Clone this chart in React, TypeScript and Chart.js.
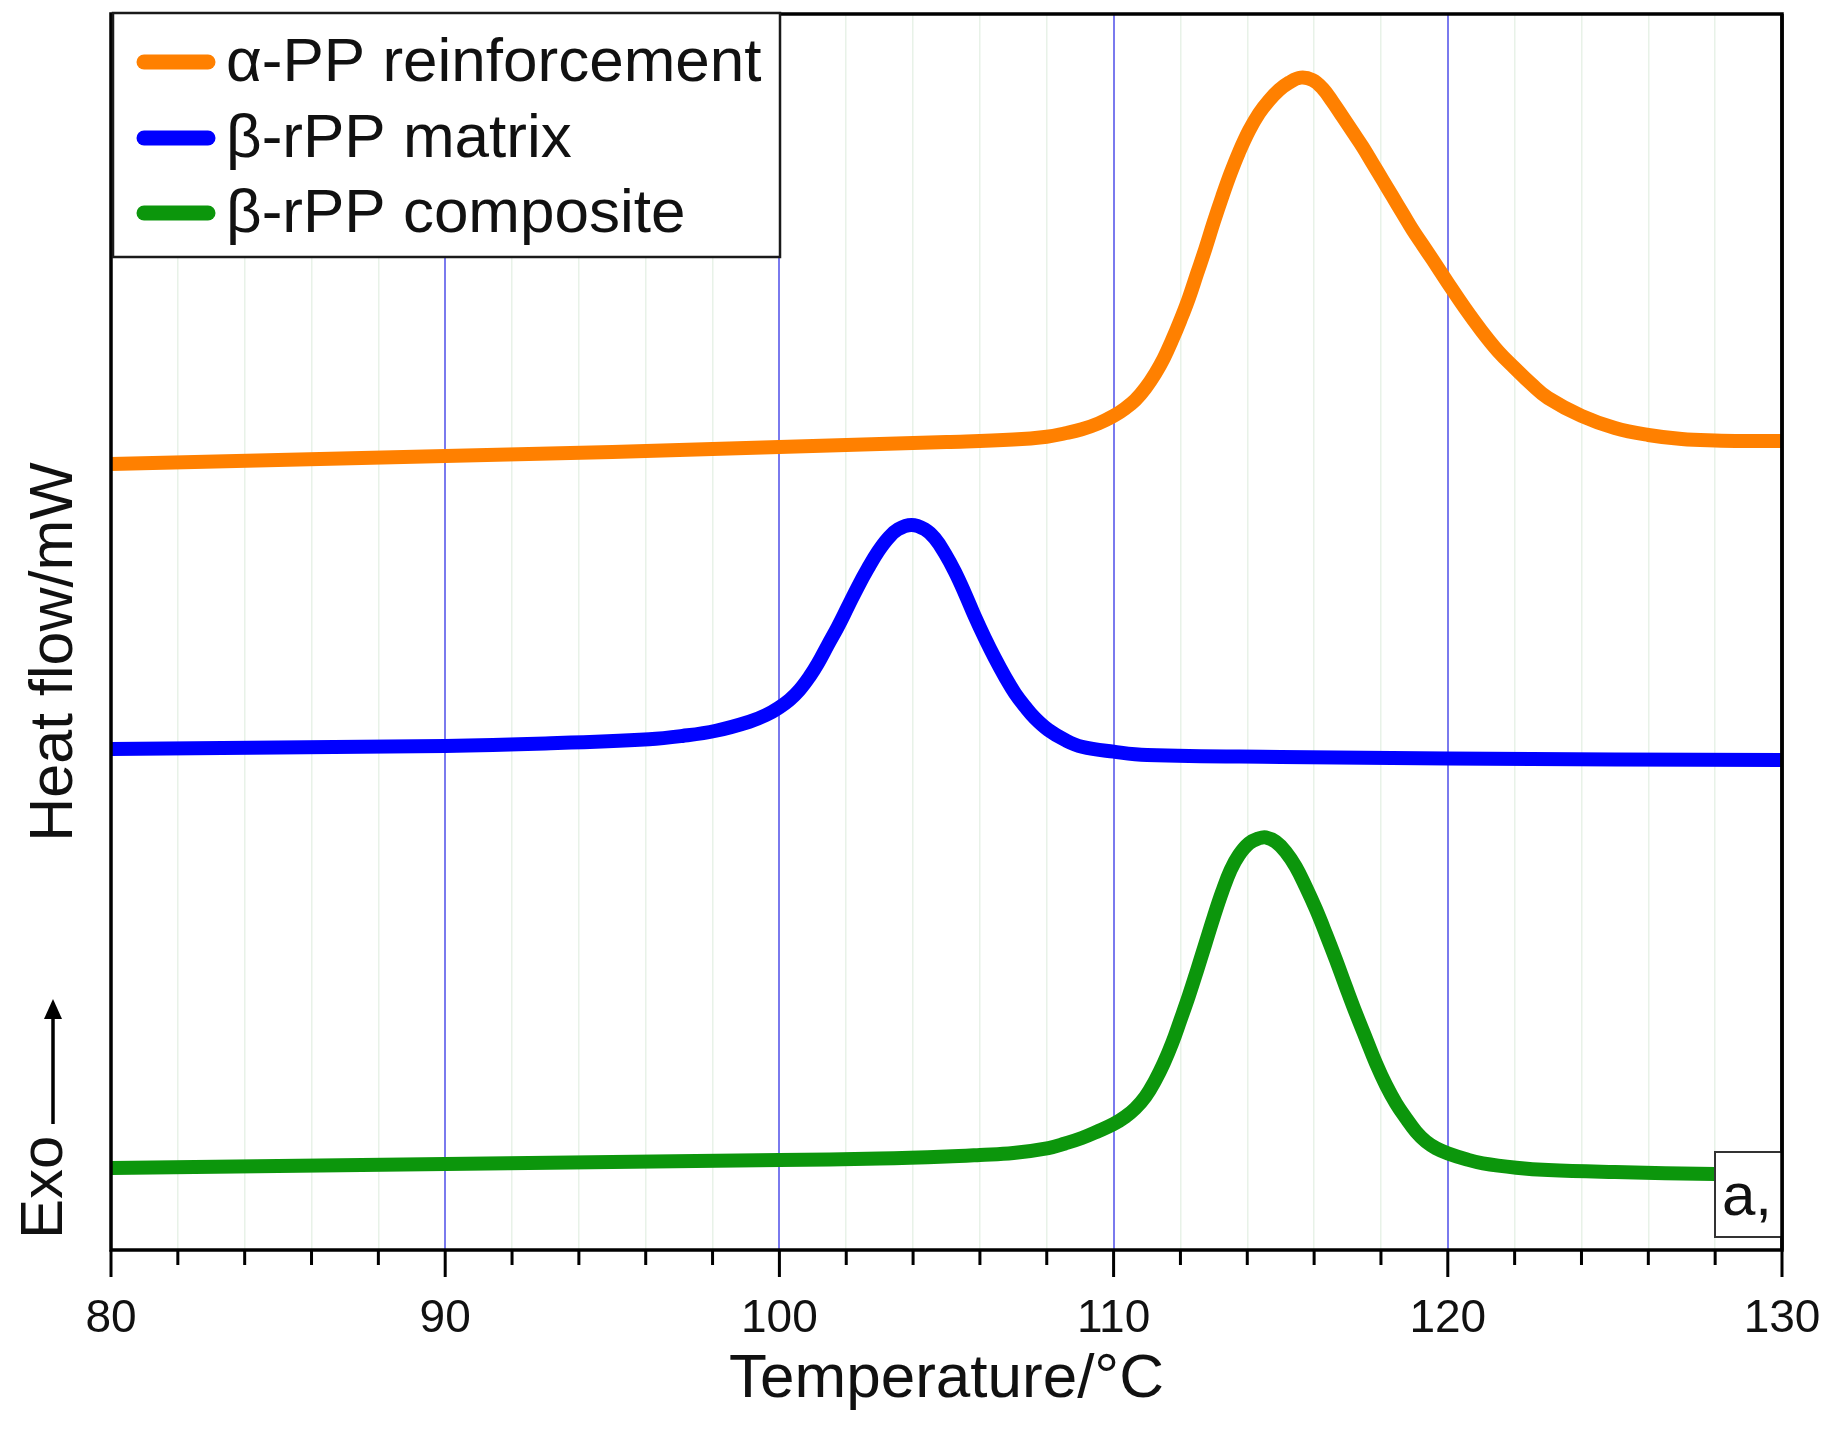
import React, { useEffect, useRef } from "react";
import { Chart, registerables } from "chart.js";

Chart.register(...registerables);

const FONT = "'Liberation Sans', Arial, Helvetica, sans-serif";

// ---- axis definition ----
const xMin = 80;
const xMax = 130;
const xTickStep = 2;
const xLabelEvery = 10;
const yMin = 0;
const yMax = 100;

// ---- series ----
const seriesLabels = ["α-PP reinforcement", "β-rPP matrix", "β-rPP composite"];
const seriesColors = ["#ff8000", "#0000ff", "#0c960c"];

const alphaPPTemp = [80, 85, 90, 95, 100, 103, 105, 107, 108, 108.55, 109.05, 109.55, 110, 110.35, 110.65, 110.95, 111.25, 111.5, 111.75, 112, 112.25, 112.5, 112.75, 113, 113.25, 113.5, 113.75, 114.05, 114.35, 114.65, 114.95, 115.25, 115.6, 115.95, 116.25, 116.55, 116.85, 117.15, 117.45, 117.75, 118.05, 118.35, 118.65, 118.95, 119.25, 119.55, 120, 120.5, 121, 121.5, 122, 122.5, 123, 124, 125, 126, 127, 128, 129, 130];
const alphaPPFlow = [63.59, 63.92, 64.24, 64.56, 64.97, 65.21, 65.37, 65.57, 65.8, 66.08, 66.4, 66.88, 67.48, 68.1, 68.77, 69.72, 70.93, 72.14, 73.62, 75.24, 77.0, 79.02, 81.04, 83.2, 85.22, 87.11, 88.8, 90.55, 91.95, 93.0, 93.85, 94.45, 94.85, 94.66, 93.99, 92.9, 91.69, 90.48, 89.26, 87.92, 86.57, 85.22, 83.87, 82.52, 81.31, 80.1, 78.25, 76.25, 74.4, 72.73, 71.36, 70.06, 68.93, 67.48, 66.5, 65.94, 65.61, 65.49, 65.45, 65.45];

const matrixTemp = [80, 85, 90, 93, 96.1, 97.1, 98.1, 99.1, 99.6, 100, 100.3, 100.6, 100.9, 101.15, 101.45, 101.75, 102.05, 102.35, 102.65, 102.95, 103.25, 103.55, 103.95, 104.35, 104.65, 104.95, 105.25, 105.55, 105.85, 106.15, 106.45, 106.75, 107.05, 107.35, 107.65, 108.05, 108.55, 109.05, 110, 111, 115, 120, 125, 130];
const matrixFlow = [40.53, 40.66, 40.78, 40.98, 41.32, 41.59, 42.01, 42.74, 43.28, 43.91, 44.5, 45.31, 46.38, 47.45, 48.95, 50.43, 52.05, 53.67, 55.15, 56.5, 57.58, 58.31, 58.66, 58.31, 57.58, 56.37, 54.88, 53.13, 51.24, 49.49, 47.87, 46.38, 45.04, 43.96, 43.02, 42.07, 41.26, 40.72, 40.32, 40.05, 39.89, 39.77, 39.68, 39.64];

const compositeTemp = [80, 85, 90, 95, 100, 103, 105, 106, 107, 108.05, 108.55, 109.05, 109.55, 110, 110.35, 110.65, 110.95, 111.25, 111.5, 111.75, 112, 112.25, 112.5, 112.75, 113, 113.25, 113.5, 113.75, 114.05, 114.35, 114.55, 114.85, 115.15, 115.45, 115.75, 116.05, 116.35, 116.65, 116.95, 117.25, 117.55, 117.85, 118.15, 118.45, 118.75, 119.05, 119.35, 119.65, 120, 120.55, 121.05, 122.05, 123, 125, 128, 130];
const compositeFlow = [6.63, 6.8, 6.96, 7.12, 7.28, 7.4, 7.56, 7.69, 7.85, 8.25, 8.62, 9.06, 9.63, 10.19, 10.78, 11.46, 12.4, 13.75, 15.11, 16.72, 18.61, 20.55, 22.65, 24.81, 26.97, 28.99, 30.74, 31.96, 32.9, 33.31, 33.39, 33.03, 32.22, 31.01, 29.39, 27.6, 25.6, 23.5, 21.3, 19.15, 17.13, 15.11, 13.35, 11.87, 10.66, 9.57, 8.76, 8.23, 7.82, 7.34, 7.01, 6.66, 6.47, 6.31, 6.15, 6.15];

const xTitle = "Temperature/°C";
const yTitle = "Heat flow/mW";
const exoLabel = "Exo";
const panelLabel = "a,";

const toPoints = (xs: number[], ys: number[]) => xs.map((x, i) => ({ x, y: ys[i] }));

const decorPlugin = {
  id: "decor",
  afterDatasetsDraw(chart: any) {
    const { ctx, chartArea } = chart;
    const { left, right, top, bottom } = chartArea;
    const xs = chart.scales.x;
    ctx.save();

    // frame
    ctx.strokeStyle = "#000";
    ctx.lineWidth = 3.5;
    ctx.strokeRect(left, top, right - left, bottom - top);

    // tick marks (outward)
    ctx.lineWidth = 3;
    ctx.beginPath();
    for (const t of xs.ticks) {
      const px = xs.getPixelForValue(t.value);
      const len = t.value % xLabelEvery === 0 ? 27 : 15;
      ctx.moveTo(px, bottom);
      ctx.lineTo(px, bottom + len);
    }
    ctx.stroke();

    // legend box
    const lx = 113, ly = 13, lw = 667, lh = 244;
    ctx.fillStyle = "#fff";
    ctx.fillRect(lx, ly, lw, lh);
    ctx.strokeStyle = "#1a1a1a";
    ctx.lineWidth = 2.5;
    ctx.strokeRect(lx, ly, lw, lh);
    const rowY = [62, 138, 213];
    chart.data.datasets.forEach((ds: any, i: number) => {
      const cy = rowY[i];
      ctx.strokeStyle = ds.borderColor;
      ctx.lineWidth = 15;
      ctx.lineCap = "round";
      ctx.beginPath();
      ctx.moveTo(144, cy);
      ctx.lineTo(208, cy);
      ctx.stroke();
      ctx.fillStyle = "#111";
      ctx.font = `62px ${FONT}`;
      ctx.textBaseline = "middle";
      ctx.textAlign = "left";
      ctx.fillText(ds.label, 226, cy + 2);
    });
    ctx.lineCap = "butt";

    // panel label box
    const bx = 1715, by = 1152, bw = right - 1715, bh = 85;
    ctx.fillStyle = "#fff";
    ctx.fillRect(bx, by, bw, bh);
    ctx.strokeStyle = "#333";
    ctx.lineWidth = 2;
    ctx.strokeRect(bx, by, bw, bh);
    ctx.fillStyle = "#111";
    ctx.font = `60px ${FONT}`;
    ctx.textBaseline = "alphabetic";
    ctx.fillText(panelLabel, 1722, 1215);

    // redraw right frame edge over box
    ctx.strokeStyle = "#000";
    ctx.lineWidth = 3.5;
    ctx.beginPath();
    ctx.moveTo(right, top);
    ctx.lineTo(right, bottom);
    ctx.stroke();

    // y title
    ctx.fillStyle = "#111";
    ctx.font = `61px ${FONT}`;
    ctx.save();
    ctx.translate(72, 652);
    ctx.rotate(-Math.PI / 2);
    ctx.textAlign = "center";
    ctx.textBaseline = "alphabetic";
    ctx.fillText(yTitle, 0, 0);
    ctx.restore();

    // Exo label + arrow
    ctx.save();
    ctx.translate(62, 1239);
    ctx.rotate(-Math.PI / 2);
    ctx.textAlign = "left";
    ctx.textBaseline = "alphabetic";
    ctx.font = `60px ${FONT}`;
    ctx.fillText(exoLabel, 0, 0);
    ctx.restore();

    ctx.strokeStyle = "#000";
    ctx.lineWidth = 3.5;
    ctx.beginPath();
    ctx.moveTo(53, 1124);
    ctx.lineTo(53, 1014);
    ctx.stroke();
    ctx.fillStyle = "#000";
    ctx.beginPath();
    ctx.moveTo(53, 999);
    ctx.lineTo(44, 1019);
    ctx.lineTo(62, 1019);
    ctx.closePath();
    ctx.fill();

    ctx.restore();
  },
};

export default function App() {
  const canvasRef = useRef<HTMLCanvasElement | null>(null);

  useEffect(() => {
    document.body.style.margin = "0";
    const canvas = canvasRef.current;
    if (!canvas) return;
    const chart = new Chart(canvas, {
      type: "line",
      data: {
        datasets: [
          { label: seriesLabels[0], data: toPoints(alphaPPTemp, alphaPPFlow), borderColor: seriesColors[0], backgroundColor: seriesColors[0] },
          { label: seriesLabels[1], data: toPoints(matrixTemp, matrixFlow), borderColor: seriesColors[1], backgroundColor: seriesColors[1] },
          { label: seriesLabels[2], data: toPoints(compositeTemp, compositeFlow), borderColor: seriesColors[2], backgroundColor: seriesColors[2] },
        ].map((d) => ({
          ...d,
          borderWidth: 14,
          pointRadius: 0,
          fill: false,
          tension: 0.4,
          borderJoinStyle: "round" as const,
          clip: 0,
        })),
      },
      options: {
        responsive: false,
        animation: false,
        devicePixelRatio: 1,
        layout: { padding: { left: 111, top: 14, right: 51, bottom: 0 } },
        plugins: { legend: { display: false }, tooltip: { enabled: false } },
        events: [],
        scales: {
          x: {
            type: "linear",
            min: xMin,
            max: xMax,
            afterFit: (scale: any) => {
              scale.height = 194;
            },
            border: { display: false },
            grid: {
              drawTicks: true,
              tickLength: 42,
              tickColor: "rgba(0,0,0,0)",
              color: (c: any) => (c.tick && c.tick.value % xLabelEvery === 0 ? "#7a7aee" : "#e8f2e8"),
              lineWidth: (c: any) => (c.tick && c.tick.value % xLabelEvery === 0 ? 2 : 1.5),
            },
            ticks: {
              stepSize: xTickStep,
              autoSkip: false,
              maxRotation: 0,
              padding: 0,
              color: "#111",
              font: { family: FONT, size: 46 },
              callback: (v: any) => (Number(v) % xLabelEvery === 0 ? String(v) : ""),
            },
            title: {
              display: true,
              text: xTitle,
              color: "#111",
              font: { family: FONT, size: 62 },
              padding: { top: 0, bottom: 27 },
            },
          },
          y: {
            type: "linear",
            min: yMin,
            max: yMax,
            display: false,
          },
        },
      },
      plugins: [decorPlugin],
    });
    return () => chart.destroy();
  }, []);

  return (
    <div style={{ width: 1833, height: 1444, background: "#fff" }}>
      <canvas ref={canvasRef} width={1833} height={1444} style={{ display: "block" }} />
    </div>
  );
}
